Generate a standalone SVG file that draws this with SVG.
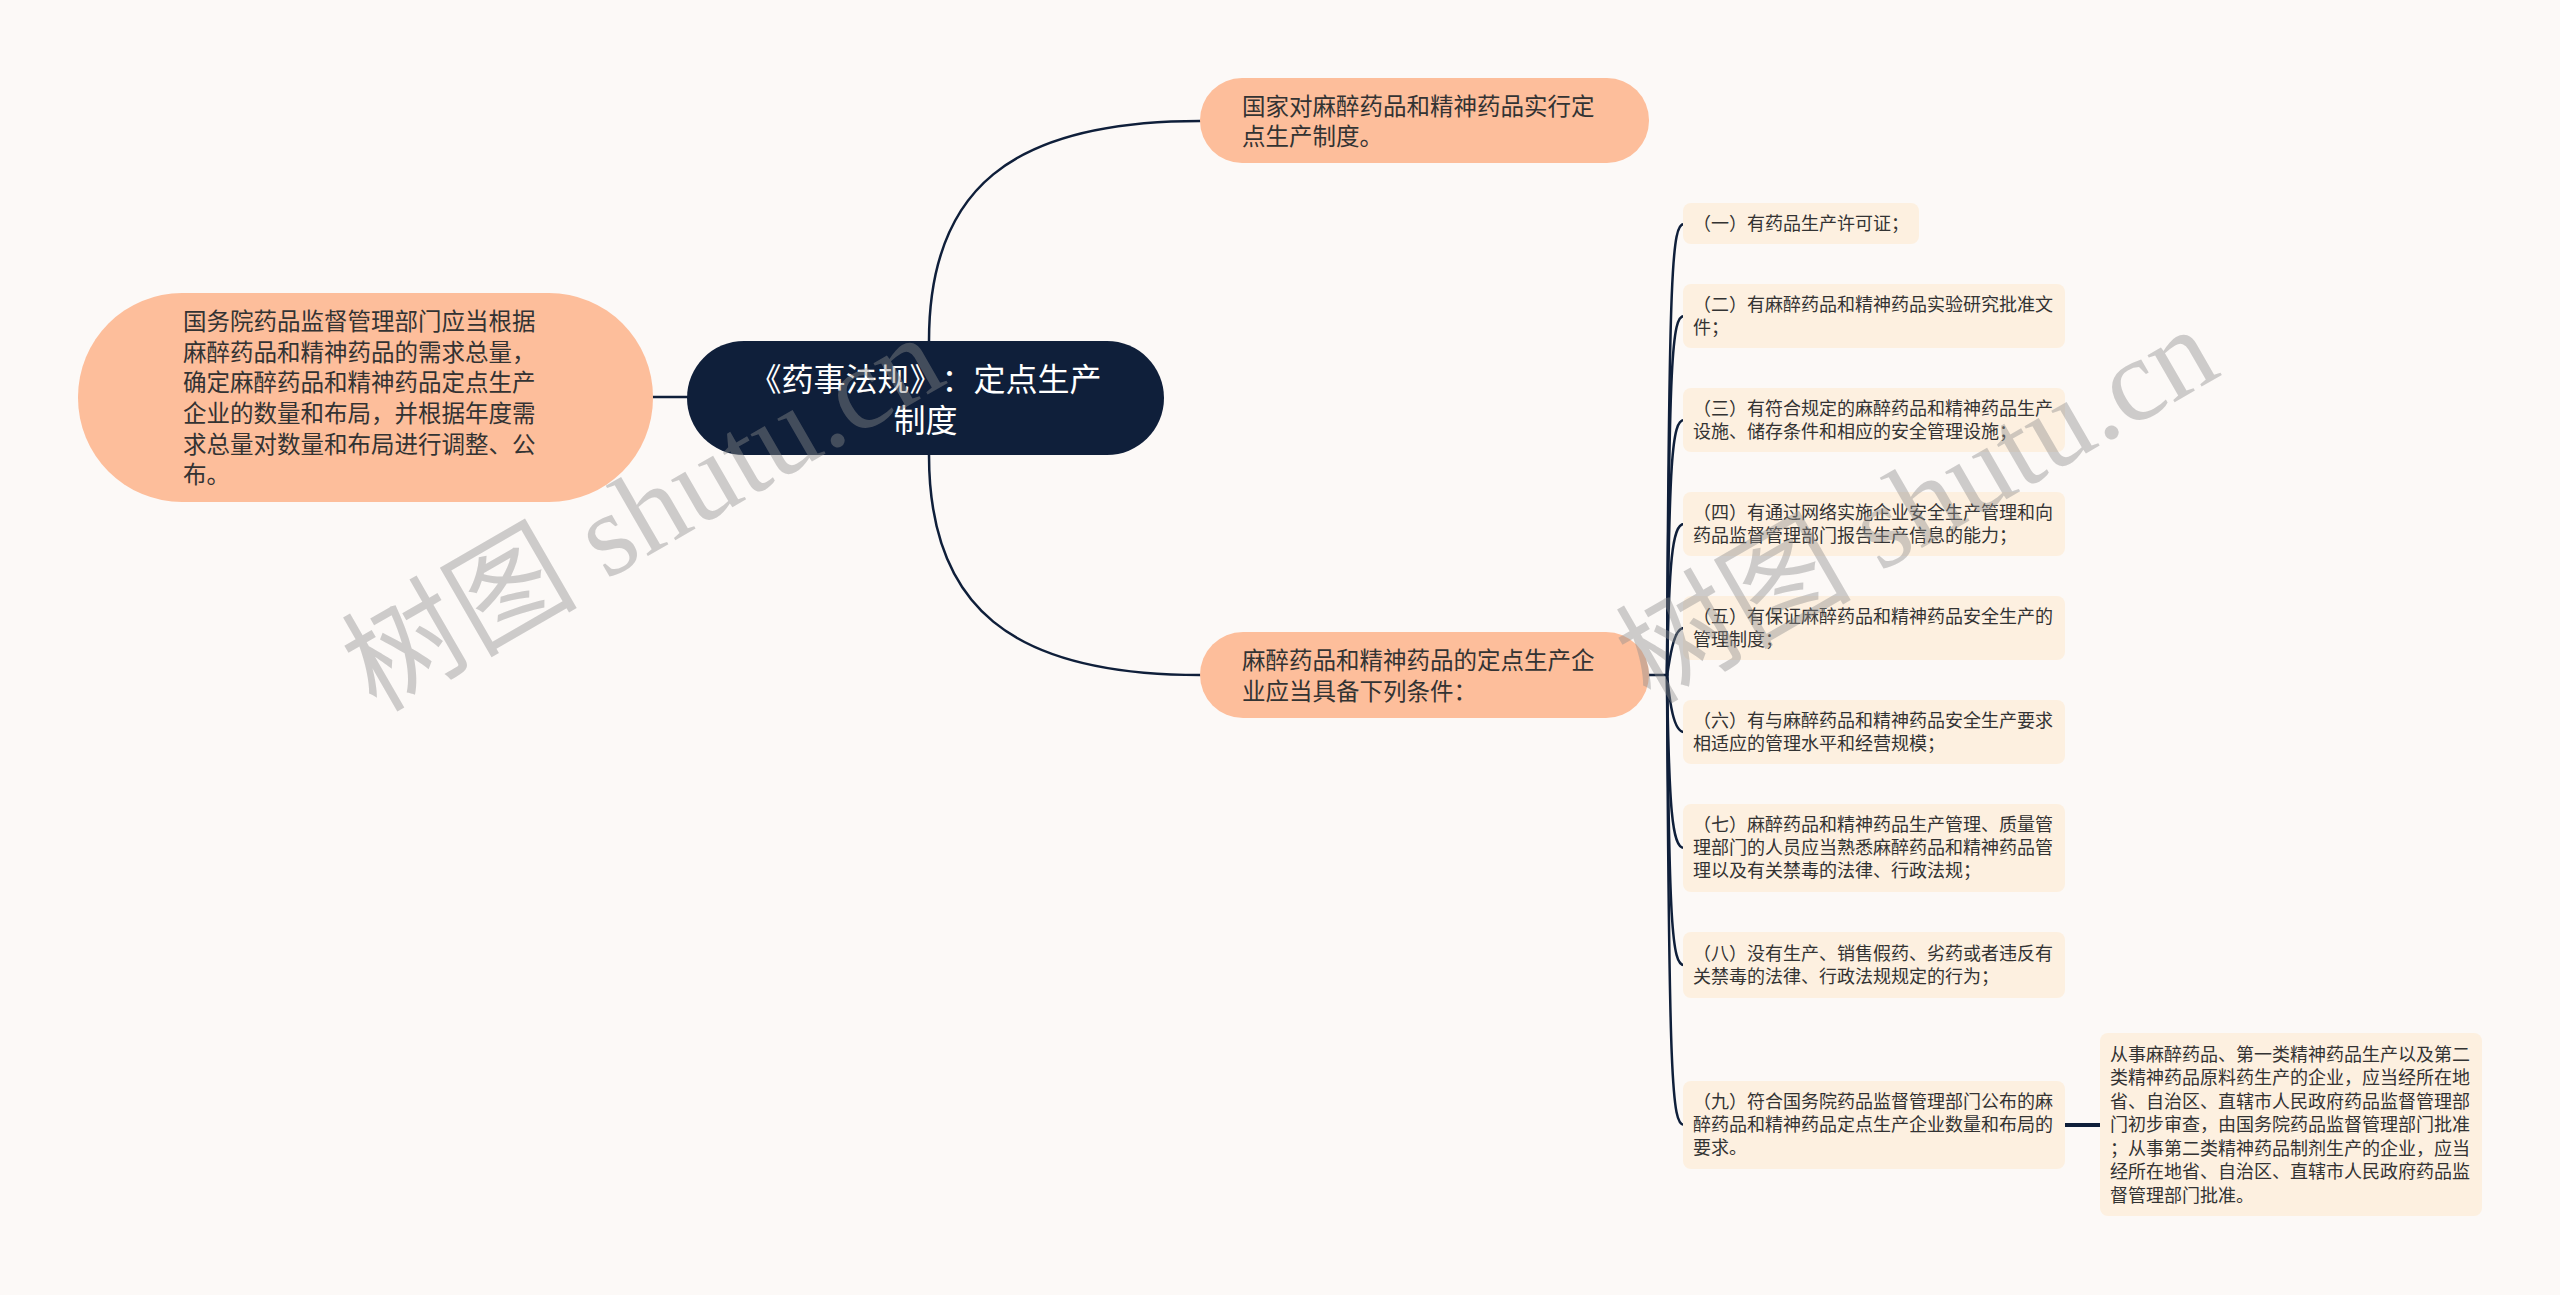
<svg xmlns="http://www.w3.org/2000/svg" width="2560" height="1295" viewBox="0 0 2560 1295">
<style>
.t{font-family:"Noto Sans CJK SC","Noto Sans",sans-serif;fill:#333333}
.n1{font-size:23.5px}
.n2{font-size:18px}
.root{font-family:"Noto Sans CJK SC","Noto Sans",sans-serif;font-size:32px;fill:#ffffff;text-spacing-trim:space-all}
.pill{fill:#fdbe9b}
.box{fill:#fdf0e0}
.ln{fill:none;stroke:#0f1f3a;stroke-width:2.5;stroke-linecap:round}
.wm{font-family:"Liberation Serif","Noto Sans CJK SC",serif;font-size:118px;fill:#8c8c8c;fill-opacity:0.42}
</style>
<rect x="0" y="0" width="2560" height="1295" fill="#fcf9f7"/>
<g id="connectors">
<path class="ln" d="M653 397 L687 397"/>
<path class="ln" d="M929 341 C929 190 1010 121 1200 121"/>
<path class="ln" d="M929 455 C929 606 1010 675 1200 675"/>
<path class="ln" d="M1649 675 L1667 675"/>
<path class="ln" d="M1667 675 C1669 264 1672 224 1684 224"/>
<path class="ln" d="M1667 675 C1669 356 1672 316 1684 316"/>
<path class="ln" d="M1667 675 C1669 460 1672 420 1684 420"/>
<path class="ln" d="M1667 675 C1669 564 1672 524 1684 524"/>
<path class="ln" d="M1667 675 C1669 668 1672 628 1684 628"/>
<path class="ln" d="M1667 675 C1669 692 1672 732 1684 732"/>
<path class="ln" d="M1667 675 C1669 808 1672 848 1684 848"/>
<path class="ln" d="M1667 675 C1669 925 1672 965 1684 965"/>
<path class="ln" d="M1667 675 C1669 1085 1672 1125 1684 1125"/>
<path class="ln" style="stroke-width:4" d="M2065 1125 L2100 1125"/>
</g>
<g id="root">
<rect x="687" y="341" width="477" height="114" rx="57" fill="#0f1f3a"/>
<text class="root" y="391"><tspan x="749.5">《药事法规》</tspan><tspan x="941.5">：</tspan><tspan x="973.5">定点生产</tspan></text>
<text class="root" x="925.5" y="432" text-anchor="middle">制度</text>
</g>
<g id="left">
<rect class="pill" x="78" y="293" width="575" height="209" rx="104"/>
<text class="t n1" x="183" y="330">国务院药品监督管理部门应当根据</text>
<text class="t n1" x="183" y="361">麻醉药品和精神药品的需求总量，</text>
<text class="t n1" x="183" y="391">确定麻醉药品和精神药品定点生产</text>
<text class="t n1" x="183" y="422">企业的数量和布局，并根据年度需</text>
<text class="t n1" x="183" y="453">求总量对数量和布局进行调整、公</text>
<text class="t n1" x="183" y="483">布。</text>
</g>
<g id="top">
<rect class="pill" x="1200" y="78" width="449" height="85" rx="42"/>
<text class="t n1" x="1242" y="115">国家对麻醉药品和精神药品实行定</text>
<text class="t n1" x="1242" y="145">点生产制度。</text>
</g>
<g id="cond">
<rect class="pill" x="1200" y="632" width="449" height="86" rx="43"/>
<text class="t n1" x="1242" y="669">麻醉药品和精神药品的定点生产企</text>
<text class="t n1" x="1242" y="700">业应当具备下列条件：</text>
</g>
<g id="c1">
<rect class="box" x="1683" y="203" width="236" height="41" rx="8"/>
<text class="t n2" x="1693" y="230">（一）有药品生产许可证；</text>
</g>
<g id="c2">
<rect class="box" x="1683" y="284" width="382" height="64" rx="8"/>
<text class="t n2" x="1693" y="311">（二）有麻醉药品和精神药品实验研究批准文</text>
<text class="t n2" x="1693" y="334">件；</text>
</g>
<g id="c3">
<rect class="box" x="1683" y="388" width="382" height="64" rx="8"/>
<text class="t n2" x="1693" y="415">（三）有符合规定的麻醉药品和精神药品生产</text>
<text class="t n2" x="1693" y="438">设施、储存条件和相应的安全管理设施；</text>
</g>
<g id="c4">
<rect class="box" x="1683" y="492" width="382" height="64" rx="8"/>
<text class="t n2" x="1693" y="519">（四）有通过网络实施企业安全生产管理和向</text>
<text class="t n2" x="1693" y="542">药品监督管理部门报告生产信息的能力；</text>
</g>
<g id="c5">
<rect class="box" x="1683" y="596" width="382" height="64" rx="8"/>
<text class="t n2" x="1693" y="623">（五）有保证麻醉药品和精神药品安全生产的</text>
<text class="t n2" x="1693" y="646">管理制度；</text>
</g>
<g id="c6">
<rect class="box" x="1683" y="700" width="382" height="64" rx="8"/>
<text class="t n2" x="1693" y="727">（六）有与麻醉药品和精神药品安全生产要求</text>
<text class="t n2" x="1693" y="750">相适应的管理水平和经营规模；</text>
</g>
<g id="c7">
<rect class="box" x="1683" y="804" width="382" height="88" rx="8"/>
<text class="t n2" x="1693" y="831">（七）麻醉药品和精神药品生产管理、质量管</text>
<text class="t n2" x="1693" y="854">理部门的人员应当熟悉麻醉药品和精神药品管</text>
<text class="t n2" x="1693" y="877">理以及有关禁毒的法律、行政法规；</text>
</g>
<g id="c8">
<rect class="box" x="1683" y="932" width="382" height="66" rx="8"/>
<text class="t n2" x="1693" y="960">（八）没有生产、销售假药、劣药或者违反有</text>
<text class="t n2" x="1693" y="983">关禁毒的法律、行政法规规定的行为；</text>
</g>
<g id="c9">
<rect class="box" x="1683" y="1081" width="382" height="88" rx="8"/>
<text class="t n2" x="1693" y="1108">（九）符合国务院药品监督管理部门公布的麻</text>
<text class="t n2" x="1693" y="1131">醉药品和精神药品定点生产企业数量和布局的</text>
<text class="t n2" x="1693" y="1154">要求。</text>
</g>
<g id="c9a">
<rect class="box" x="2100" y="1033" width="382" height="183" rx="8"/>
<text class="t n2" x="2110" y="1061">从事麻醉药品、第一类精神药品生产以及第二</text>
<text class="t n2" x="2110" y="1084">类精神药品原料药生产的企业，应当经所在地</text>
<text class="t n2" x="2110" y="1108">省、自治区、直辖市人民政府药品监督管理部</text>
<text class="t n2" x="2110" y="1131">门初步审查，由国务院药品监督管理部门批准</text>
<text class="t n2" x="2110" y="1155">；从事第二类精神药品制剂生产的企业，应当</text>
<text class="t n2" x="2110" y="1178">经所在地省、自治区、直辖市人民政府药品监</text>
<text class="t n2" x="2110" y="1202">督管理部门批准。</text>
</g>
<g id="watermarks">
<text class="wm" x="376" y="713" transform="rotate(-30 376 713)">树图 shutu.cn</text>
<text class="wm" x="1650" y="705" transform="rotate(-30 1650 705)">树图 shutu.cn</text>
</g>
</svg>
